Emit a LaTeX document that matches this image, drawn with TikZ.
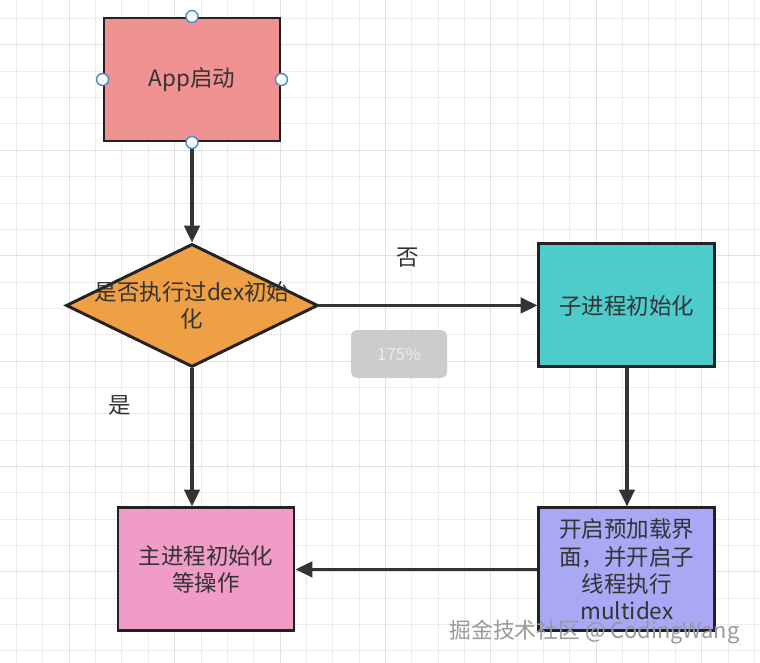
\documentclass[tikz,border=0pt]{standalone}
\usepackage{fontspec}
\setmainfont{Noto Sans CJK SC}
\usepackage{tikz}
\usetikzlibrary{positioning,arrows.meta,shapes.geometric}

\definecolor{gridminor}{RGB}{236,236,236}
\definecolor{gridmajor}{RGB}{224,224,224}
\definecolor{boxline}{RGB}{34,34,34}
\definecolor{txt}{RGB}{51,51,51}
\definecolor{appred}{RGB}{240,146,146}
\definecolor{askorange}{RGB}{240,160,68}
\definecolor{subcyan}{RGB}{78,204,204}
\definecolor{mainpink}{RGB}{241,156,200}
\definecolor{prepurple}{RGB}{168,168,245}
\definecolor{handleblue}{RGB}{70,135,210}

\begin{document}
\begin{tikzpicture}[
			every node/.style={
				align=center,
				text=txt,
				font=\fontsize{16}{19.5}\selectfont
			},
			box/.style={draw=boxline,line width=2.1pt,minimum width=4.4cm,minimum height=3.075cm,inner sep=1pt},
			decision/.style={diamond,draw=boxline,fill=askorange,line width=2.1pt,minimum width=6.3cm,minimum height=3.075cm,inner sep=0pt},
			handle/.style={circle,draw=handleblue,fill=white,line width=1pt,minimum size=0.3cm,inner sep=0pt},
			lbl/.style={inner sep=0pt},
			badge/.style={fill=black!20,rounded corners=4pt,minimum width=2.4cm,minimum height=1.2cm,text=black!8,font=\fontsize{12}{14}\selectfont},
			wmark/.style={text=black!40,font=\fontsize{15.5}{18}\selectfont},
			arrow/.style={-{Triangle[length=12pt,width=11pt]},line width=2.2pt,draw=txt},
			gridline/.style={draw=gridminor,line width=0.6pt},
			gridbold/.style={draw=gridmajor,line width=0.6pt}
			]
			
			\fill[white] (0,0) rectangle (19,-16.575);
			\useasboundingbox (0,0) rectangle (19,-16.575);
			
			% grid
			\foreach \i in {0,...,28} \draw[gridline] ({0.4125+0.65875*\i},0) -- ++(0,-16.575);
			\foreach \j in {0,...,24} \draw[gridline] (0,{-0.4625-0.65875*\j}) -- ++(19,0);
			\foreach \i in {2,6,...,26} \draw[gridbold] ({0.4125+0.65875*\i},0) -- ++(0,-16.575);
			\foreach \j in {1,5,...,21} \draw[gridbold] (0,{-0.4625-0.65875*\j}) -- ++(19,0);
			
			\node[box,fill=appred] (app) at (4.8,-1.9875) {App启动};
			\node[decision,below=2.5cm of app] (ask) {};
			\node (asktext) at (ask) {是否执行过dex初始\\化};
			\node[box,fill=subcyan,right=5.45cm of ask] (sub) {子进程初始化};
			\node[box,fill=prepurple,below=3.45cm of sub] (pre) {开启预加载界\\面，并开启子\\线程执行\\multidex};
			\node[box,fill=mainpink,left=6.05cm of pre] (main) {主进程初始化\\等操作};
			
			\draw[arrow] (app) -- (ask);
			\draw[arrow] (ask) -- node[lbl,pos=.405,above=0.925cm] {否} (sub);
			\draw[arrow] (ask.south) -- node[lbl,pos=.27,left=1.475cm] {是} (ask.south |- main.north);
			\draw[arrow] (sub) -- (pre);
			\draw[arrow] (pre) -- (main);
			
			% selection handles
			\node[handle] (hn) at (app.north) {};
			\node[handle] (hw) at (app.west) {};
			\node[handle] (he) at (app.east) {};
			\node[handle] (hs) at (app.south) {};
			
			\node[badge] (zoom) at (9.975,-8.85) {175\%};
			\node[wmark] (credit) at (14.8625,-15.8) {掘金技术社区 @ CodingWang};
			
		\end{tikzpicture}
\end{document}
